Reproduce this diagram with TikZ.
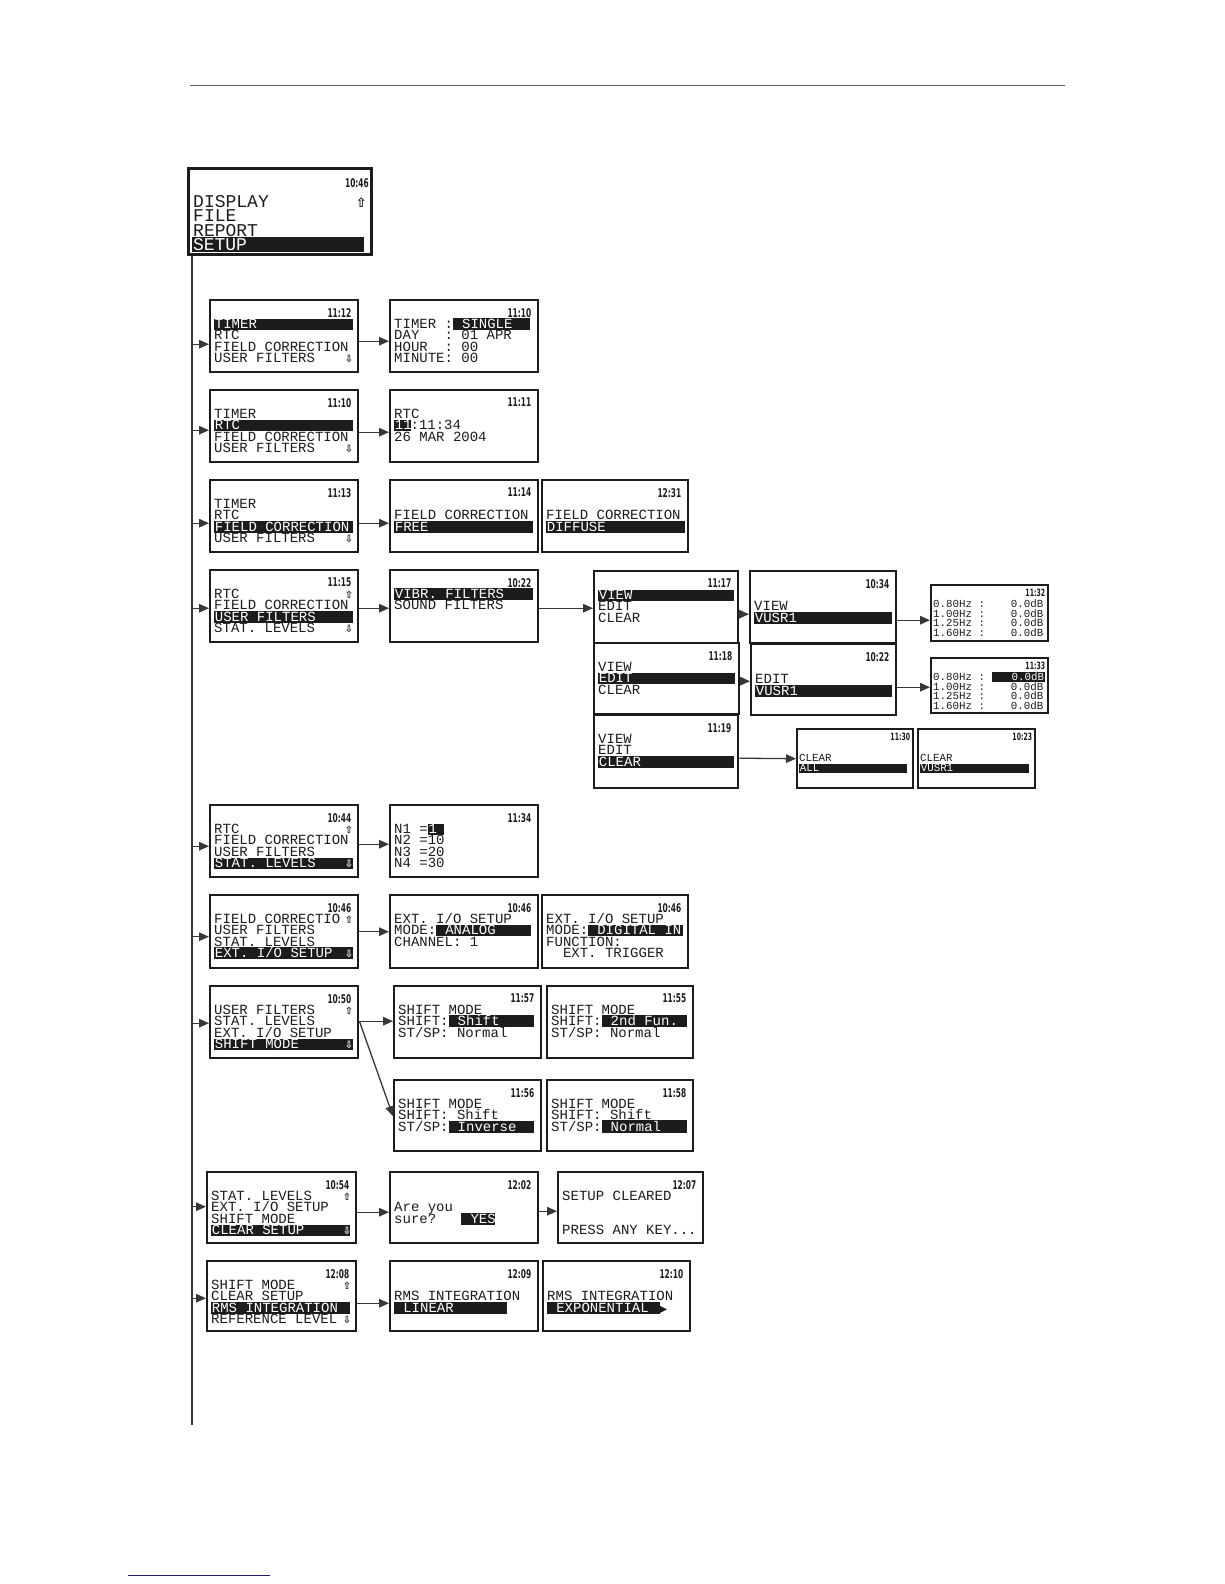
\documentclass[tikz,border=0pt]{standalone}
\usepackage{fontspec}
\usetikzlibrary{arrows.meta,calc}
\newfontfamily\lcdfont{Liberation Mono}
\newfontfamily\clockfont[FakeStretch=0.62]{DejaVu Sans}
\newfontfamily\symfont{DejaVu Sans}
\definecolor{ink}{RGB}{28,28,28}
\definecolor{wire}{RGB}{55,55,55}
\definecolor{rulegray}{RGB}{95,95,95}
\definecolor{footblue}{RGB}{30,30,120}

% screen helpers
\newcommand{\scrclock}[2]{\node[clk] (#1-clk) at ([shift={(-8,9)}]#1.north east) {#2};}
\newcommand{\smclock}[2]{\node[clk,font=\clockfont\bfseries\fontsize{10}{10}\selectfont] (#1-clk) at ([shift={(-4,5)}]#1.north east) {#2};}
\newcommand{\lcdrow}[3]{\node[lcd] (#1-r#2) at ([shift={(5,{29.5+(#2-1)*11.4})}]#1.north west) {#3};}
\newcommand{\smrow}[4]{\node[lcdsm] (#1-s#2) at ([shift={(3,#3)}]#1.north west) {#4};}
\newcommand{\scrmark}[4]{\node[font=\symfont\bfseries\fontsize{10}{10}\selectfont,text=#4,inner sep=0pt,text height=7pt,text depth=0pt,anchor=base east] (#1-m#2) at ([shift={(-6,{29.5+(#2-1)*11.4})}]#1.north east) {#3};}
\newcommand{\lcdhl}[2]{{\setlength{\fboxsep}{0.7pt}\colorbox{ink}{\makebox[#1][l]{\rule[-0.8pt]{0pt}{9.2pt}\color{white}#2}}}}
\newcommand{\smhl}[2]{{\setlength{\fboxsep}{0.6pt}\colorbox{ink}{\makebox[#1][l]{\rule[-0.6pt]{0pt}{7.4pt}\color{white}#2}}}}
\newcommand{\fullbar}[1]{\lcdhl{137pt}{#1}}

\begin{document}
\begin{tikzpicture}[x=1pt,y=-1pt,
  scr/.style={draw=ink,line width=2.4pt,anchor=north west,inner sep=0pt,minimum width=148pt,minimum height=72pt},
  lcd/.style={font=\lcdfont\fontsize{14}{14}\selectfont,text=ink,inner sep=0pt,text height=9pt,text depth=1.5pt,anchor=base west},
  lcdsm/.style={lcd,font=\lcdfont\fontsize{10.8}{10.8}\selectfont,text height=7pt,text depth=1pt},
  lcdbig/.style={lcd,font=\lcdfont\fontsize{18}{18}\selectfont,text height=11.5pt,text depth=1.5pt},
  clk/.style={font=\clockfont\bfseries\fontsize{12}{12}\selectfont,text=ink,inner sep=0pt,anchor=north east},
  arr/.style={draw=wire,line width=1.3pt,-{Triangle[length=10pt,width=8.5pt]}}]
\fill[white] (0,0) rectangle (1224,1584);
\useasboundingbox (0,0) rectangle (1224,1584);
\draw[rulegray,line width=1pt] (190,86) -- (1065,86);
\draw[footblue,line width=1pt] (128,1575) -- (270,1575);

% main menu
\node[scr,line width=3pt,minimum width=183pt,minimum height=86pt] (main) at (187,167) {};
\node[clk] (main-clk) at ([shift={(-4,11)}]main.north east) {10:46};
\node[lcdbig] (main-r1) at ([shift={(6,40)}]main.north west) {DISPLAY};
\node[lcdbig] (main-r2) at ([shift={(6,54.5)}]main.north west) {FILE};
\node[lcdbig] (main-r3) at ([shift={(6,69)}]main.north west) {REPORT};
\node[lcdbig] (main-r4) at ([shift={(5,83)}]main.north west) {{\setlength{\fboxsep}{0.8pt}\colorbox{ink}{\makebox[170pt][l]{\rule[-1.5pt]{0pt}{12.5pt}\color{white}SETUP}}}};
\node[font=\symfont\bfseries\fontsize{13}{13}\selectfont,text=ink,inner sep=0pt,text height=9pt,text depth=0pt,anchor=base east] (main-m1) at ([shift={(-6,40)}]main.north east) {⇧};

% level 1 screens
\node[scr] (tim) at (209,299) {};
\node[scr] (timset) at (389,299) {};
\node[scr] (rtc) at (209,389) {};
\node[scr] (rtcset) at (389,389) {};
\node[scr] (fld) at (209,479) {};
\node[scr] (fldfree) at (389,479) {};
\node[scr,minimum width=146pt] (flddiff) at (541,479) {};
\node[scr] (usr) at (209,569) {};
\node[scr] (usrsel) at (389,569) {};
\node[scr,minimum width=144pt] (view) at (593,570) {};
\node[scr,minimum width=146pt] (viewsel) at (749,570) {};
\node[scr,minimum width=117pt,minimum height=56pt] (viewtab) at (930,584) {};
\node[scr,minimum width=145pt,minimum height=71pt] (edit) at (593,642) {};
\node[scr,minimum width=145pt,minimum height=71pt] (editsel) at (750,643) {};
\node[scr,minimum width=117pt,minimum height=55pt] (edittab) at (930,657) {};
\node[scr,minimum width=144pt,minimum height=73pt] (clr) at (593,714) {};
\node[scr,minimum width=116pt,minimum height=59pt] (clrall) at (796,728) {};
\node[scr,minimum width=117pt,minimum height=59pt] (clrusr) at (917,728) {};
\node[scr] (stat) at (209,804) {};
\node[scr] (statset) at (389,804) {};
\node[scr,minimum height=73pt] (ext) at (209,894) {};
\node[scr,minimum height=73pt] (extset) at (389,894) {};
\node[scr,minimum width=146pt,minimum height=73pt] (extdig) at (541,894) {};
\node[scr] (shm) at (209,985) {};
\node[scr,minimum width=147pt] (sh1) at (393,985) {};
\node[scr,minimum width=146pt] (sh2) at (546,985) {};
\node[scr,minimum width=147pt,minimum height=71pt] (sh3) at (393,1079) {};
\node[scr,minimum width=146pt,minimum height=71pt] (sh4) at (546,1079) {};
\node[scr,minimum width=149pt,minimum height=71pt] (clrset) at (206,1171) {};
\node[scr,minimum height=71pt] (sure) at (389,1171) {};
\node[scr,minimum width=145pt,minimum height=71pt] (done) at (557,1171) {};
\node[scr,minimum width=149pt,minimum height=70pt] (rms) at (206,1260) {};
\node[scr,minimum height=70pt] (rmslin) at (389,1260) {};
\node[scr,minimum width=147pt,minimum height=70pt] (rmsexp) at (542,1260) {};

% timer
\scrclock{tim}{11:12}
\lcdrow{tim}{1}{\fullbar{TIMER}}
\lcdrow{tim}{2}{RTC}
\lcdrow{tim}{3}{FIELD CORRECTION}
\lcdrow{tim}{4}{USER FILTERS}
\scrmark{tim}{4}{⇩}{ink}
\scrclock{timset}{11:10}
\lcdrow{timset}{1}{TIMER~:\lcdhl{76pt}{~SINGLE}}
\lcdrow{timset}{2}{DAY~~~:~01~APR}
\lcdrow{timset}{3}{HOUR~~:~00}
\lcdrow{timset}{4}{MINUTE:~00}

% rtc
\scrclock{rtc}{11:10}
\lcdrow{rtc}{1}{TIMER}
\lcdrow{rtc}{2}{\fullbar{RTC}}
\lcdrow{rtc}{3}{FIELD CORRECTION}
\lcdrow{rtc}{4}{USER FILTERS}
\scrmark{rtc}{4}{⇩}{ink}
\scrclock{rtcset}{11:11}
\lcdrow{rtcset}{1}{RTC}
\lcdrow{rtcset}{2}{\lcdhl{15pt}{11}:11:34}
\lcdrow{rtcset}{3}{26 MAR 2004}

% field correction
\scrclock{fld}{11:13}
\lcdrow{fld}{1}{TIMER}
\lcdrow{fld}{2}{RTC}
\lcdrow{fld}{3}{\fullbar{FIELD CORRECTION}}
\lcdrow{fld}{4}{USER FILTERS}
\scrmark{fld}{4}{⇩}{ink}
\scrclock{fldfree}{11:14}
\lcdrow{fldfree}{2}{FIELD CORRECTION}
\lcdrow{fldfree}{3}{\fullbar{FREE}}
\scrclock{flddiff}{12:31}
\lcdrow{flddiff}{2}{FIELD CORRECTION}
\lcdrow{flddiff}{3}{\fullbar{DIFFUSE}}

% user filters
\scrclock{usr}{11:15}
\lcdrow{usr}{1}{RTC}
\scrmark{usr}{1}{⇧}{ink}
\lcdrow{usr}{2}{FIELD CORRECTION}
\lcdrow{usr}{3}{\fullbar{USER FILTERS}}
\lcdrow{usr}{4}{STAT. LEVELS}
\scrmark{usr}{4}{⇩}{ink}
\scrclock{usrsel}{10:22}
\lcdrow{usrsel}{1}{\fullbar{VIBR. FILTERS}}
\lcdrow{usrsel}{2}{SOUND FILTERS}
\scrclock{view}{11:17}
\lcdrow{view}{1}{\lcdhl{134pt}{VIEW}}
\lcdrow{view}{2}{EDIT}
\lcdrow{view}{3}{CLEAR}
\scrclock{viewsel}{10:34}
\lcdrow{viewsel}{2}{VIEW}
\lcdrow{viewsel}{3}{\lcdhl{136pt}{VUSR1}}
\smclock{viewtab}{11:32}
\smrow{viewtab}{1}{23.5}{0.80Hz~:~~~~0.0dB}
\smrow{viewtab}{2}{33}{1.00Hz~:~~~~0.0dB}
\smrow{viewtab}{3}{42.5}{1.25Hz~:~~~~0.0dB}
\smrow{viewtab}{4}{52}{1.60Hz~:~~~~0.0dB}
\scrclock{edit}{11:18}
\lcdrow{edit}{1}{VIEW}
\lcdrow{edit}{2}{\lcdhl{135pt}{EDIT}}
\lcdrow{edit}{3}{CLEAR}
\scrclock{editsel}{10:22}
\lcdrow{editsel}{2}{EDIT}
\lcdrow{editsel}{3}{\lcdhl{135pt}{VUSR1}}
\smclock{edittab}{11:33}
\smrow{edittab}{1}{23.5}{0.80Hz~:~\smhl{52pt}{~~~0.0dB}}
\smrow{edittab}{2}{33}{1.00Hz~:~~~~0.0dB}
\smrow{edittab}{3}{42.5}{1.25Hz~:~~~~0.0dB}
\smrow{edittab}{4}{52}{1.60Hz~:~~~~0.0dB}
\scrclock{clr}{11:19}
\lcdrow{clr}{1}{VIEW}
\lcdrow{clr}{2}{EDIT}
\lcdrow{clr}{3}{\lcdhl{134pt}{CLEAR}}
\smclock{clrall}{11:30}
\smrow{clrall}{1}{33.5}{CLEAR}
\smrow{clrall}{2}{43.5}{\smhl{107pt}{ALL}}
\smclock{clrusr}{10:23}
\smrow{clrusr}{1}{33.5}{CLEAR}
\smrow{clrusr}{2}{43.5}{\smhl{108pt}{VUSR1}}

% stat. levels
\scrclock{stat}{10:44}
\lcdrow{stat}{1}{RTC}
\scrmark{stat}{1}{⇧}{ink}
\lcdrow{stat}{2}{FIELD CORRECTION}
\lcdrow{stat}{3}{USER FILTERS}
\lcdrow{stat}{4}{\fullbar{STAT. LEVELS}}
\scrmark{stat}{4}{⇩}{white}
\scrclock{statset}{11:34}
\lcdrow{statset}{1}{N1~=\lcdhl{15pt}{1}}
\lcdrow{statset}{2}{N2~=10}
\lcdrow{statset}{3}{N3~=20}
\lcdrow{statset}{4}{N4~=30}

% ext. i/o setup
\scrclock{ext}{10:46}
\lcdrow{ext}{1}{FIELD CORRECTIO}
\scrmark{ext}{1}{⇧}{ink}
\lcdrow{ext}{2}{USER FILTERS}
\lcdrow{ext}{3}{STAT. LEVELS}
\lcdrow{ext}{4}{\fullbar{EXT. I/O SETUP}}
\scrmark{ext}{4}{⇩}{white}
\scrclock{extset}{10:46}
\lcdrow{extset}{1}{EXT. I/O SETUP}
\lcdrow{extset}{2}{MODE:\lcdhl{93pt}{~ANALOG}}
\lcdrow{extset}{3}{CHANNEL:~1}
\scrclock{extdig}{10:46}
\lcdrow{extdig}{1}{EXT. I/O SETUP}
\lcdrow{extdig}{2}{MODE:\lcdhl{93pt}{~DIGITAL~IN}}
\lcdrow{extdig}{3}{FUNCTION:}
\lcdrow{extdig}{4}{~~EXT.~TRIGGER}

% shift mode
\scrclock{shm}{10:50}
\lcdrow{shm}{1}{USER FILTERS}
\scrmark{shm}{1}{⇧}{ink}
\lcdrow{shm}{2}{STAT. LEVELS}
\lcdrow{shm}{3}{EXT. I/O SETUP}
\lcdrow{shm}{4}{\fullbar{SHIFT MODE}}
\scrmark{shm}{4}{⇩}{white}
\scrclock{sh1}{11:57}
\lcdrow{sh1}{1}{SHIFT MODE}
\lcdrow{sh1}{2}{SHIFT:\lcdhl{84pt}{~Shift}}
\lcdrow{sh1}{3}{ST/SP:~Normal}
\scrclock{sh2}{11:55}
\lcdrow{sh2}{1}{SHIFT MODE}
\lcdrow{sh2}{2}{SHIFT:\lcdhl{84pt}{~2nd~Fun.}}
\lcdrow{sh2}{3}{ST/SP:~Normal}
\scrclock{sh3}{11:56}
\lcdrow{sh3}{1}{SHIFT MODE}
\lcdrow{sh3}{2}{SHIFT:~Shift}
\lcdrow{sh3}{3}{ST/SP:\lcdhl{84pt}{~Inverse}}
\scrclock{sh4}{11:58}
\lcdrow{sh4}{1}{SHIFT MODE}
\lcdrow{sh4}{2}{SHIFT:~Shift}
\lcdrow{sh4}{3}{ST/SP:\lcdhl{84pt}{~Normal}}

% clear setup
\scrclock{clrset}{10:54}
\lcdrow{clrset}{1}{STAT. LEVELS}
\scrmark{clrset}{1}{⇧}{ink}
\lcdrow{clrset}{2}{EXT. I/O SETUP}
\lcdrow{clrset}{3}{SHIFT MODE}
\lcdrow{clrset}{4}{\fullbar{CLEAR SETUP}}
\scrmark{clrset}{4}{⇩}{white}
\scrclock{sure}{12:02}
\lcdrow{sure}{2}{Are~you}
\lcdrow{sure}{3}{sure?~~~\lcdhl{32pt}{~YES}}
\scrclock{done}{12:07}
\lcdrow{done}{1}{SETUP CLEARED}
\lcdrow{done}{4}{PRESS ANY KEY...}

% rms integration
\scrclock{rms}{12:08}
\lcdrow{rms}{1}{SHIFT MODE}
\scrmark{rms}{1}{⇧}{ink}
\lcdrow{rms}{2}{CLEAR SETUP}
\lcdrow{rms}{3}{\fullbar{RMS INTEGRATION}}
\lcdrow{rms}{4}{REFERENCE LEVEL}
\scrmark{rms}{4}{⇩}{ink}
\scrclock{rmslin}{12:09}
\lcdrow{rmslin}{2}{RMS INTEGRATION}
\lcdrow{rmslin}{3}{\lcdhl{111pt}{~LINEAR}}
\scrclock{rmsexp}{12:10}
\lcdrow{rmsexp}{2}{RMS INTEGRATION}
\lcdrow{rmsexp}{3}{\lcdhl{111pt}{~EXPONENTIAL}{\symfont\fontsize{10}{10}\selectfont▶}}

% connectors
\coordinate (trunktop) at ([shift={(5,0)}]main.south west);
\coordinate (trunkend) at (192,1425);
\draw[wire,line width=1.5pt] (trunktop) -- (trunkend);
\foreach \n/\d in {tim/8,rtc/4,fld/7,usr/2,stat/5,ext/5,shm/1,clrset/-1,rms/2}{
  \coordinate (\n-in) at ([shift={(0,\d)}]\n.west);
  \draw[arr] (trunktop |- \n-in) -- (\n-in);
}
\foreach \a/\da/\b/\db in {tim/5/timset/5,rtc/6/rtcset/6,fld/7/fldfree/7,usr/2/usrsel/2,
    usrsel/2/view/1,view/7/viewsel/7,viewsel/13/viewtab/7,edit/2.5/editsel/1.5,
    editsel/7.5/edittab/1.5,clr/6.5/clrall/0,stat/3/statset/3,ext/0/extset/0,
    shm/-1/sh1/-1,shm/-1/sh3/0.5,clrset/4.5/sure/4.5,sure/3.5/done/3.5,rms/7/rmslin/7}
  \draw[arr] ([shift={(0,\da)}]\a.east) -- ([shift={(0,\db)}]\b.west);
\end{tikzpicture}
\end{document}
